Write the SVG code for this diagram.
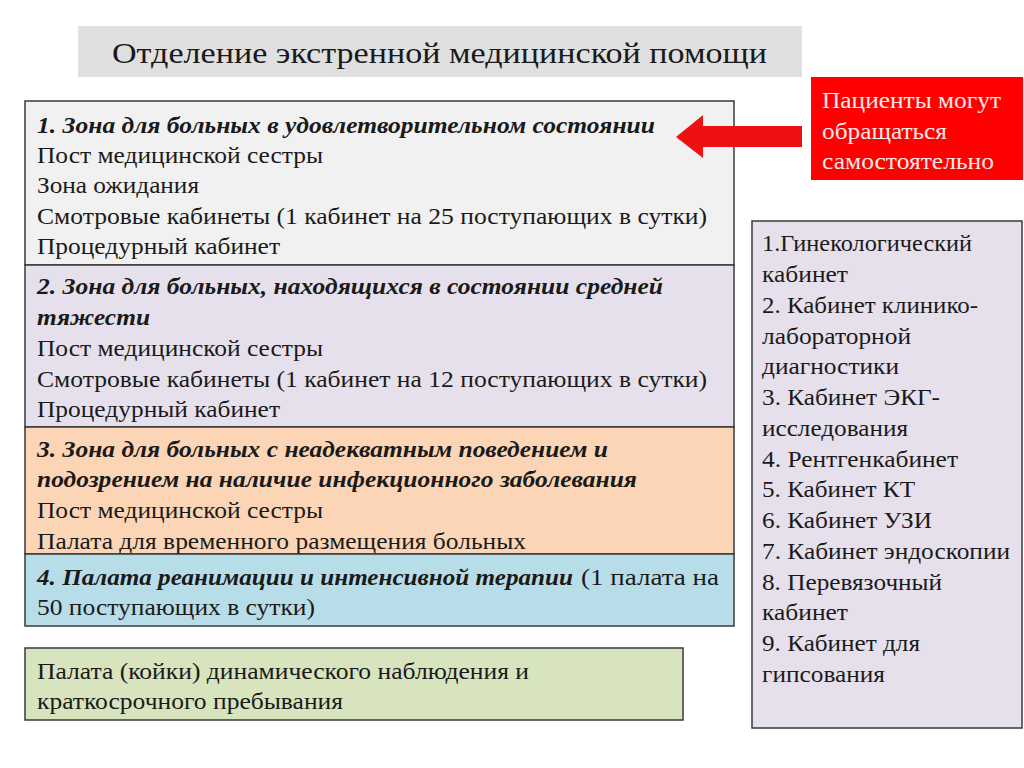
<svg xmlns="http://www.w3.org/2000/svg" width="1024" height="768" viewBox="0 0 1024 768">
<style>
text{font-family:"Liberation Serif","Times New Roman","DejaVu Serif",serif;font-size:24px;fill:#1a1a1a}
.b{font-weight:bold;font-style:italic}
.box{stroke:#3a3a3a;stroke-width:1.5}
.t{font-size:30px}
.w{fill:#ffe8e8;font-size:24px}
</style>
<rect width="1024" height="768" fill="#ffffff"/>
<g id="title">
<rect x="78" y="26" width="724" height="51" fill="#e0e0e0"/>
<text class="t" x="112" y="63" textLength="655" lengthAdjust="spacingAndGlyphs">Отделение экстренной медицинской помощи</text>
</g>
<g id="zone1">
<rect class="box" x="25" y="101" width="709" height="164" fill="#f1f1f1"/>
<text class="b" x="37" y="133" textLength="618" lengthAdjust="spacingAndGlyphs">1. Зона для больных в удовлетворительном состоянии</text>
<text x="37" y="163" textLength="286" lengthAdjust="spacingAndGlyphs">Пост медицинской сестры</text>
<text x="37" y="193" textLength="162" lengthAdjust="spacingAndGlyphs">Зона ожидания</text>
<text x="37" y="224" textLength="670" lengthAdjust="spacingAndGlyphs">Смотровые кабинеты (1 кабинет на 25 поступающих в сутки)</text>
<text x="37" y="254" textLength="243" lengthAdjust="spacingAndGlyphs">Процедурный кабинет</text>
</g>
<g id="zone2">
<rect class="box" x="25" y="265" width="709" height="162" fill="#e6e0ec"/>
<text class="b" x="37" y="294" textLength="626" lengthAdjust="spacingAndGlyphs">2. Зона для больных, находящихся в состоянии средней</text>
<text class="b" x="37" y="325" textLength="113" lengthAdjust="spacingAndGlyphs">тяжести</text>
<text x="37" y="356" textLength="286" lengthAdjust="spacingAndGlyphs">Пост медицинской сестры</text>
<text x="37" y="387" textLength="670" lengthAdjust="spacingAndGlyphs">Смотровые кабинеты (1 кабинет на 12 поступающих в сутки)</text>
<text x="37" y="417" textLength="243" lengthAdjust="spacingAndGlyphs">Процедурный кабинет</text>
</g>
<g id="zone3">
<rect class="box" x="25" y="427" width="709" height="127" fill="#fbd5b5"/>
<text class="b" x="37" y="457" textLength="571" lengthAdjust="spacingAndGlyphs">3. Зона для больных с неадекватным поведением и</text>
<text class="b" x="37" y="487" textLength="600" lengthAdjust="spacingAndGlyphs">подозрением на наличие инфекционного заболевания</text>
<text x="37" y="518" textLength="286" lengthAdjust="spacingAndGlyphs">Пост медицинской сестры</text>
<text x="37" y="549" textLength="489" lengthAdjust="spacingAndGlyphs">Палата для временного размещения больных</text>
</g>
<g id="zone4">
<rect class="box" x="25" y="554" width="709" height="72" fill="#b7dde8"/>
<text class="b" x="37" y="585" textLength="536" lengthAdjust="spacingAndGlyphs">4. Палата реанимации и интенсивной терапии</text>
<text x="581" y="585" textLength="138" lengthAdjust="spacingAndGlyphs">(1 палата на</text>
<text x="37" y="615" textLength="278" lengthAdjust="spacingAndGlyphs">50 поступающих в сутки)</text>
</g>
<g id="observation">
<rect class="box" x="25" y="648" width="658" height="72" fill="#d7e4bd"/>
<text x="37" y="679" textLength="492" lengthAdjust="spacingAndGlyphs">Палата (койки) динамического наблюдения и</text>
<text x="37" y="709" textLength="306" lengthAdjust="spacingAndGlyphs">краткосрочного пребывания</text>
</g>
<g id="cabinets">
<rect class="box" x="752" y="221" width="270" height="507" fill="#e6e0ec"/>
<text x="762" y="251" textLength="210" lengthAdjust="spacingAndGlyphs">1.Гинекологический</text>
<text x="762" y="282" textLength="86" lengthAdjust="spacingAndGlyphs">кабинет</text>
<text x="762" y="313" textLength="216" lengthAdjust="spacingAndGlyphs">2. Кабинет клинико-</text>
<text x="762" y="344" textLength="149" lengthAdjust="spacingAndGlyphs">лабораторной</text>
<text x="762" y="374" textLength="137" lengthAdjust="spacingAndGlyphs">диагностики</text>
<text x="762" y="405" textLength="178" lengthAdjust="spacingAndGlyphs">3. Кабинет ЭКГ-</text>
<text x="762" y="436" textLength="146" lengthAdjust="spacingAndGlyphs">исследования</text>
<text x="762" y="467" textLength="196" lengthAdjust="spacingAndGlyphs">4. Рентгенкабинет</text>
<text x="762" y="497" textLength="153" lengthAdjust="spacingAndGlyphs">5. Кабинет КТ</text>
<text x="762" y="528" textLength="170" lengthAdjust="spacingAndGlyphs">6. Кабинет УЗИ</text>
<text x="762" y="559" textLength="248" lengthAdjust="spacingAndGlyphs">7. Кабинет эндоскопии</text>
<text x="762" y="590" textLength="180" lengthAdjust="spacingAndGlyphs">8. Перевязочный</text>
<text x="762" y="620" textLength="86" lengthAdjust="spacingAndGlyphs">кабинет</text>
<text x="762" y="651" textLength="158" lengthAdjust="spacingAndGlyphs">9. Кабинет для</text>
<text x="762" y="682" textLength="123" lengthAdjust="spacingAndGlyphs">гипсования</text>
</g>
<g id="patients">
<rect x="811" y="77" width="212" height="103" fill="#ff0000"/>
<text class="w" x="822" y="108" textLength="179" lengthAdjust="spacingAndGlyphs">Пациенты могут</text>
<text class="w" x="822" y="139" textLength="125" lengthAdjust="spacingAndGlyphs">обращаться</text>
<text class="w" x="822" y="169" textLength="172" lengthAdjust="spacingAndGlyphs">самостоятельно</text>
</g>
<g id="connectors">
<polygon points="802,126 703,126 703,115 676,137 703,158 703,147 802,147" fill="#ee1111"/>
</g>
</svg>
